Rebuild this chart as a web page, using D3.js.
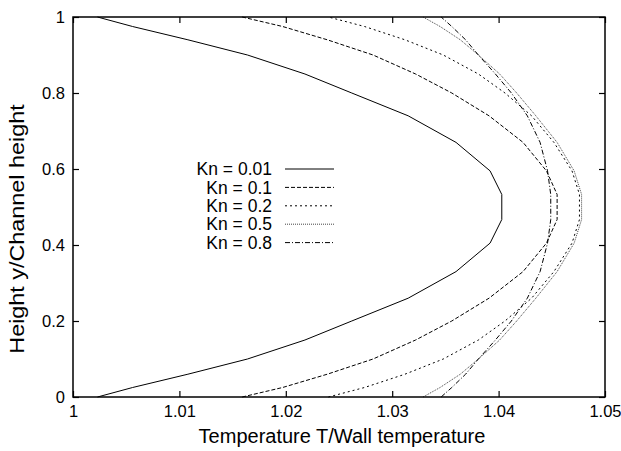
<!DOCTYPE html>
<html lang="en">
<head>
  <meta charset="UTF-8">
  <title>Temperature profiles</title>
  <style>
    body { margin: 0; background: #fff; }
    svg { display: block; }
    text { font-family: "Liberation Sans", Arial, sans-serif; fill: #000; }
  </style>
</head>
<body>
  <div id="chart"></div>
  <script src="https://d3js.org/d3.v7.min.js"></script>
  <script>
    const width = 621
    const height = 451
    const margin = { top: 17, right: 16, bottom: 54, left: 73 }

    // normalised height y/H where each profile was sampled (denser near the walls)
    const yGrid = [0, 0.025, 0.06, 0.1, 0.15, 0.2, 0.26, 0.33, 0.405, 0.467,
      0.533, 0.595, 0.67, 0.74, 0.8, 0.85, 0.9, 0.94, 0.975, 1]

    // T / T_wall for each Knudsen number
    const tKn001 = [1.0023, 1.0056, 1.0108, 1.0164, 1.0218, 1.0262, 1.0315, 1.0360, 1.0392, 1.0403,
      1.0403, 1.0392, 1.0360, 1.0315, 1.0262, 1.0218, 1.0164, 1.0108, 1.0056, 1.0023]
    const tKn01 = [1.0159, 1.0197, 1.0239, 1.0282, 1.0322, 1.0356, 1.0391, 1.0423, 1.0445, 1.0455,
      1.0455, 1.0445, 1.0423, 1.0391, 1.0356, 1.0322, 1.0282, 1.0239, 1.0197, 1.0159]
    const tKn02 = [1.0240, 1.0274, 1.0312, 1.0348, 1.0381, 1.0406, 1.0431, 1.0452, 1.0469, 1.0476,
      1.0476, 1.0469, 1.0452, 1.0431, 1.0406, 1.0381, 1.0348, 1.0312, 1.0274, 1.0240]
    const tKn05 = [1.0329, 1.0345, 1.0364, 1.0381, 1.0401, 1.0417, 1.0435, 1.0455, 1.0471, 1.0478,
      1.0478, 1.0471, 1.0455, 1.0435, 1.0417, 1.0401, 1.0381, 1.0364, 1.0345, 1.0329]
    const tKn08 = [1.0346, 1.0356, 1.0369, 1.0381, 1.0397, 1.0412, 1.0427, 1.0439, 1.0446, 1.0449,
      1.0449, 1.0446, 1.0439, 1.0427, 1.0412, 1.0397, 1.0381, 1.0369, 1.0356, 1.0346]

    const seriesNames = ['Kn = 0.01', 'Kn = 0.1', 'Kn = 0.2', 'Kn = 0.5', 'Kn = 0.8']
    const seriesValues = [tKn001, tKn01, tKn02, tKn05, tKn08]
    const dashes = ['none', '4 2', '2 3', '1 1', '5 2 1 2']
    const strokes = ['#000', '#000', '#000', '#444', '#000']

    const xTicks = [1, 1.01, 1.02, 1.03, 1.04, 1.05]
    const yTicks = [0, 0.2, 0.4, 0.6, 0.8, 1]

    const svg = d3.select('#chart').append('svg')
      .attr('width', width)
      .attr('height', height)

    svg.append('rect')
      .attr('width', width)
      .attr('height', height)
      .attr('fill', '#fff')

    const iw = width - margin.left - margin.right
    const ih = height - margin.top - margin.bottom

    const x = d3.scaleLinear().domain([1, 1.05]).range([0, iw])
    const y = d3.scaleLinear().domain([0, 1]).range([ih, 0])

    const g = svg.append('g')
      .attr('transform', `translate(${margin.left},${margin.top})`)

    // axes, gnuplot style: ticks point inwards and are mirrored
    const fmt = d => String(+d.toFixed(2))
    const tickLen = 6

    const xAxis = g.append('g')
      .attr('transform', `translate(0,${ih})`)
      .call(d3.axisBottom(x).tickValues(xTicks).tickFormat(fmt).tickSize(-tickLen).tickPadding(8))
    const xAxisTop = g.append('g')
      .call(d3.axisTop(x).tickValues(xTicks).tickFormat('').tickSize(-tickLen))
    const yAxis = g.append('g')
      .call(d3.axisLeft(y).tickValues(yTicks).tickFormat(fmt).tickSize(-tickLen).tickPadding(8))
    const yAxisRight = g.append('g')
      .attr('transform', `translate(${iw},0)`)
      .call(d3.axisRight(y).tickValues(yTicks).tickFormat('').tickSize(-tickLen))

    for (const ax of [xAxis, xAxisTop, yAxis, yAxisRight]) {
      ax.select('.domain').remove()
      ax.selectAll('line').attr('stroke', '#000').attr('stroke-width', 1.2)
      ax.selectAll('text').attr('font-size', 16.5).attr('font-family', '"Liberation Sans", Arial, sans-serif')
    }

    // curves
    const line = d3.line()
      .x(d => x(d[0]))
      .y(d => y(d[1]))

    const curves = g.append('g').attr('class', 'curves')
    curves.selectAll('path')
      .data(seriesValues)
      .join('path')
      .attr('d', vals => line(vals.map((t, i) => [t, yGrid[i]])))
      .attr('fill', 'none')
      .attr('stroke', (d, i) => strokes[i])
      .attr('stroke-width', 1)
      .attr('stroke-dasharray', (d, i) => dashes[i])

    // frame
    g.append('rect')
      .attr('width', iw)
      .attr('height', ih)
      .attr('fill', 'none')
      .attr('stroke', '#000')
      .attr('stroke-width', 1.5)

    // legend
    const legend = g.append('g')
      .attr('transform', `translate(${272 - margin.left},${169 - margin.top})`)
    const rows = legend.selectAll('g')
      .data(seriesNames)
      .join('g')
      .attr('transform', (d, i) => `translate(0,${i * 18.4})`)
    rows.append('text')
      .attr('x', 0)
      .attr('dy', '0.35em')
      .attr('text-anchor', 'end')
      .attr('font-size', 17.5)
      .text(d => d)
    rows.append('line')
      .attr('x1', 13)
      .attr('x2', 62)
      .attr('stroke', (d, i) => strokes[i])
      .attr('stroke-width', 1)
      .attr('stroke-dasharray', (d, i) => dashes[i])

    // axis titles
    svg.append('text')
      .attr('x', margin.left + iw / 2 + 3)
      .attr('y', 443)
      .attr('text-anchor', 'middle')
      .attr('font-size', 20)
      .text('Temperature T/Wall temperature')

    // the y title is slightly stretched along its length, like in the original
    svg.append('text')
      .attr('transform', `translate(24,${margin.top + ih / 2 + 22}) rotate(-90) scale(1.2,1)`)
      .attr('text-anchor', 'middle')
      .attr('font-size', 19.5)
      .text('Height y/Channel height')
  </script>
</body>
</html>
